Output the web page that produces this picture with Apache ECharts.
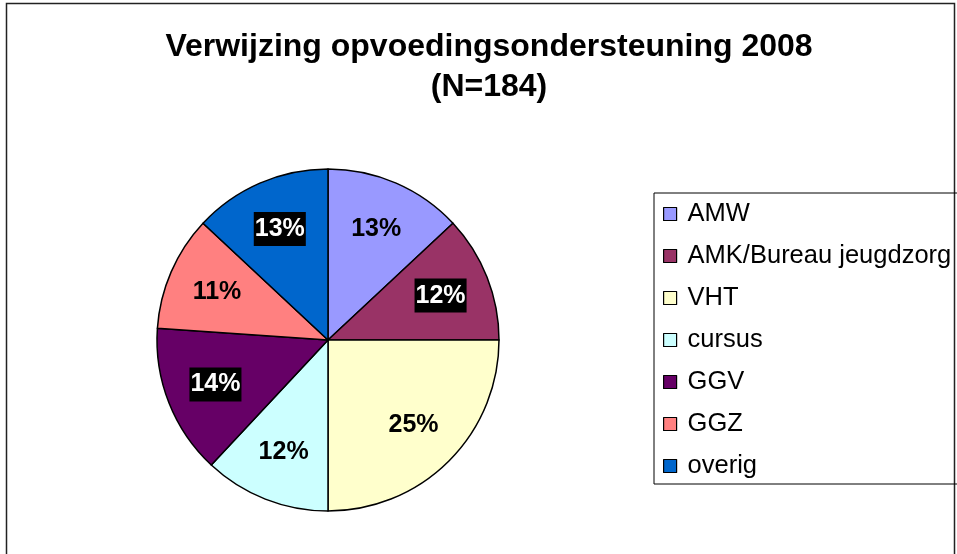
<!DOCTYPE html>
<html>
<head>
<meta charset="utf-8">
<style>
  html, body { margin: 0; padding: 0; background: #fff; }
  #chart { width: 957px; height: 554px; }
</style>
<script src="https://cdn.jsdelivr.net/npm/echarts@6/dist/echarts.min.js"></script>
</head>
<body>
<div id="chart"></div>
<script>
// counts (N=184)
const categories = ['AMW', 'AMK/Bureau jeugdzorg', 'VHT', 'cursus', 'GGV', 'GGZ', 'overig'];
const counts = [24, 22, 46, 22, 26, 20, 24];
const colors = ['#9999FF', '#993366', '#FFFFCC', '#CCFFFF', '#660066', '#FF8080', '#0066CC'];
// which labels get the black box with white text
const darkLabel = [false, true, false, false, true, false, true];

const font = '"Liberation Sans", Arial, sans-serif';

const chart = echarts.init(document.getElementById('chart'));

const sliceData = categories.map((name, i) => ({
  name: name,
  value: counts[i],
  itemStyle: { color: colors[i] }
}));

const labelData = categories.map((name, i) => ({
  name: name,
  value: counts[i],
  label: darkLabel[i]
    ? { color: '#fff', backgroundColor: '#000', padding: [5, 1, 3, 1] }
    : { color: '#000' }
}));

const option = {
  backgroundColor: '#fff',
  animation: false,
  title: {
    text: 'Verwijzing opvoedingsondersteuning 2008\n(N=184)',
    left: 484,
    top: 22,
    textAlign: 'center',
    textStyle: {
      fontFamily: font,
      fontWeight: 'bold',
      fontSize: 32,
      lineHeight: 40,
      color: '#000'
    }
  },
  legend: {
    orient: 'vertical',
    left: 654,
    top: 193,
    padding: [8, 30, 5, 9],
    itemGap: 16,
    itemWidth: 13,
    itemHeight: 13,
    icon: 'rect',
    borderColor: '#000',
    borderWidth: 1,
    data: categories,
    itemStyle: { borderColor: '#000', borderWidth: 1.2 },
    textStyle: {
      fontFamily: font,
      fontSize: 25.5,
      lineHeight: 25,
      color: '#000',
      padding: [0, 0, 0, 6]
    }
  },
  graphic: [{
    type: 'rect',
    shape: { x: 6.5, y: 3.5, width: 948, height: 600 },
    style: { fill: 'none', stroke: '#222', lineWidth: 1.5 },
    silent: true,
    z: -1
  }],
  series: [
    {
      name: 'slices',
      type: 'pie',
      center: [328, 340],
      radius: [0, 171],
      startAngle: 90,
      clockwise: true,
      label: { show: false },
      labelLine: { show: false },
      itemStyle: { borderColor: '#000', borderWidth: 1.5 },
      emphasis: { disabled: true },
      data: sliceData
    },
    {
      // transparent copy that only carries the percentage labels further out
      name: 'labels',
      type: 'pie',
      center: [328, 340],
      radius: [0, 236],
      startAngle: 90,
      clockwise: true,
      silent: true,
      legendHoverLink: false,
      itemStyle: { color: 'rgba(0,0,0,0)', borderWidth: 0 },
      label: {
        show: true,
        position: 'inside',
        formatter: (p) => Math.round(p.percent) + '%',
        fontFamily: font,
        fontWeight: 'bold',
        fontSize: 25,
        lineHeight: 26
      },
      labelLine: { show: false },
      emphasis: { disabled: true },
      data: labelData
    }
  ]
};

chart.setOption(option);
</script>
</body>
</html>
